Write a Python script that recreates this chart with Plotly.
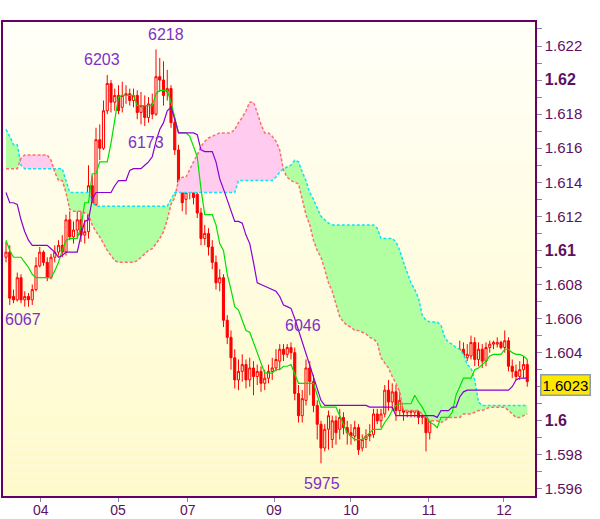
import plotly.graph_objects as go

# ---------------- data ----------------
bar_index = list(range(140))

open_ = [1.6096, 1.6099, 1.6073, 1.6071, 1.6084, 1.6071, 1.6073, 1.6071, 1.6077, 1.6091,
         1.6099, 1.6093, 1.6084, 1.6096, 1.6099, 1.6103, 1.6099, 1.6118, 1.6108, 1.6112,
         1.6118, 1.6109, 1.6111, 1.6138, 1.6127, 1.6165, 1.6160, 1.6182, 1.6198, 1.6187,
         1.6191, 1.6184, 1.6191, 1.6192, 1.6188, 1.6191, 1.6181, 1.6185, 1.6178, 1.6186,
         1.6180, 1.6202, 1.6200, 1.6193, 1.6195, 1.6175, 1.6159, 1.6140, 1.6130, 1.6134,
         1.6136, 1.6133, 1.6122, 1.6107, 1.6110, 1.6102, 1.6093, 1.6081, 1.6084, 1.6059,
         1.6049, 1.6037, 1.6024, 1.6029, 1.6033, 1.6024, 1.6031, 1.6026, 1.6029, 1.6022,
         1.6025, 1.6029, 1.6031, 1.6035, 1.6042, 1.6039, 1.6043, 1.6040, 1.6016, 1.6003,
         1.6012, 1.6031, 1.6023, 1.6009, 1.5998, 1.5984, 1.5995, 1.5989, 1.6000, 1.5995,
         1.6002, 1.5996, 1.5993, 1.5991, 1.5996, 1.5984, 1.5989, 1.5991, 1.5992, 1.6004,
         1.6000, 1.6004, 1.6018, 1.6011, 1.6017, 1.6006, 1.6012, 1.6005, 1.6011, 1.6005,
         1.6007, 1.6002, 1.6005, 1.5993, 1.6003, 1.6011, 1.6018, 1.6013, 1.6016, 1.6019,
         1.6017, 1.6029, 1.6042, 1.6037, 1.6038, 1.6046, 1.6036, 1.6042, 1.6035, 1.6043,
         1.6045, 1.6045, 1.6046, 1.6043, 1.6047, 1.6032, 1.6029, 1.6026, 1.6030, 1.6033]

high = [1.6105, 1.6103, 1.6077, 1.6087, 1.6086, 1.6076, 1.6075, 1.6080, 1.6096, 1.6102,
        1.6100, 1.6096, 1.6098, 1.6103, 1.6106, 1.6109, 1.6121, 1.6123, 1.6117, 1.6130,
        1.6124, 1.6118, 1.6150, 1.6144, 1.6172, 1.6174, 1.6188, 1.6203, 1.6200, 1.6195,
        1.6197, 1.6199, 1.6197, 1.6195, 1.6195, 1.6194, 1.6193, 1.6191, 1.6190, 1.6192,
        1.6218, 1.6213, 1.6211, 1.6206, 1.6197, 1.6178, 1.6162, 1.6143, 1.6138, 1.6140,
        1.6138, 1.6137, 1.6125, 1.6115, 1.6113, 1.6106, 1.6097, 1.6089, 1.6086, 1.6062,
        1.6053, 1.6042, 1.6036, 1.6039, 1.6036, 1.6037, 1.6035, 1.6033, 1.6032, 1.6030,
        1.6033, 1.6037, 1.6042, 1.6045, 1.6045, 1.6045, 1.6046, 1.6043, 1.6021, 1.6018,
        1.6036, 1.6035, 1.6027, 1.6012, 1.6000, 1.5998, 1.6006, 1.6003, 1.6003, 1.6007,
        1.6005, 1.6000, 1.5998, 1.6000, 1.5998, 1.5992, 1.5995, 1.5998, 1.6007, 1.6007,
        1.6007, 1.6021, 1.6024, 1.6022, 1.6021, 1.6023, 1.6015, 1.6013, 1.6013, 1.6012,
        1.6010, 1.6009, 1.6009, 1.6006, 1.6017, 1.6024, 1.6022, 1.6024, 1.6025, 1.6026,
        1.6033, 1.6047, 1.6046, 1.6045, 1.6050, 1.6049, 1.6046, 1.6045, 1.6046, 1.6047,
        1.6047, 1.6049, 1.6047, 1.6053, 1.6049, 1.6036, 1.6033, 1.6035, 1.6038, 1.6036]

low = [1.6093, 1.6068, 1.6069, 1.6070, 1.6069, 1.6067, 1.6067, 1.6068, 1.6076, 1.6090,
       1.6091, 1.6082, 1.6083, 1.6093, 1.6097, 1.6096, 1.6097, 1.6106, 1.6104, 1.6107,
       1.6105, 1.6104, 1.6107, 1.6123, 1.6124, 1.6153, 1.6159, 1.6180, 1.6181, 1.6182,
       1.6180, 1.6181, 1.6186, 1.6185, 1.6184, 1.6177, 1.6174, 1.6173, 1.6175, 1.6177,
       1.6179, 1.6193, 1.6185, 1.6188, 1.6172, 1.6156, 1.6137, 1.6123, 1.6121, 1.6130,
       1.6127, 1.6119, 1.6103, 1.6103, 1.6097, 1.6089, 1.6077, 1.6076, 1.6055, 1.6045,
       1.6030, 1.6019, 1.6018, 1.6023, 1.6019, 1.6020, 1.6015, 1.6021, 1.6017, 1.6018,
       1.6022, 1.6024, 1.6029, 1.6030, 1.6035, 1.6037, 1.6036, 1.6012, 1.5999, 1.5999,
       1.6009, 1.6015, 1.6005, 1.5989, 1.5975, 1.5982, 1.5983, 1.5984, 1.5986, 1.5989,
       1.5992, 1.5986, 1.5986, 1.5988, 1.5980, 1.5982, 1.5984, 1.5988, 1.5990, 1.5998,
       1.5996, 1.6002, 1.6006, 1.6006, 1.6000, 1.6003, 1.6000, 1.6002, 1.6002, 1.6002,
       1.5998, 1.5998, 1.5982, 1.5989, 1.6000, 1.6007, 1.6009, 1.6006, 1.6010, 1.6012,
       1.6014, 1.6021, 1.6033, 1.6035, 1.6036, 1.6032, 1.6032, 1.6031, 1.6032, 1.6040,
       1.6042, 1.6043, 1.6042, 1.6040, 1.6029, 1.6025, 1.6024, 1.6024, 1.6025, 1.6020]

close = [1.6099, 1.6072, 1.6071, 1.6084, 1.6071, 1.6073, 1.6071, 1.6077, 1.6091, 1.6099,
         1.6093, 1.6084, 1.6096, 1.6099, 1.6103, 1.6099, 1.6118, 1.6108, 1.6112, 1.6118,
         1.6109, 1.6111, 1.6138, 1.6127, 1.6165, 1.6160, 1.6182, 1.6198, 1.6187, 1.6191,
         1.6182, 1.6191, 1.6192, 1.6188, 1.6191, 1.6181, 1.6185, 1.6178, 1.6186, 1.6180,
         1.6202, 1.6200, 1.6191, 1.6195, 1.6175, 1.6159, 1.6140, 1.6128, 1.6134, 1.6136,
         1.6131, 1.6122, 1.6107, 1.6110, 1.6102, 1.6093, 1.6081, 1.6084, 1.6059, 1.6049,
         1.6037, 1.6024, 1.6029, 1.6033, 1.6024, 1.6031, 1.6026, 1.6029, 1.6022, 1.6025,
         1.6029, 1.6031, 1.6036, 1.6042, 1.6039, 1.6043, 1.6040, 1.6016, 1.6003, 1.6013,
         1.6031, 1.6023, 1.6009, 1.5998, 1.5984, 1.5995, 1.6003, 1.6000, 1.5993, 1.6002,
         1.5996, 1.5993, 1.5991, 1.5996, 1.5983, 1.5989, 1.5991, 1.5992, 1.6004, 1.6000,
         1.6004, 1.6018, 1.6011, 1.6017, 1.6006, 1.6012, 1.6005, 1.6011, 1.6005, 1.6007,
         1.6002, 1.6003, 1.5993, 1.6003, 1.6012, 1.6018, 1.6013, 1.6016, 1.6019, 1.6016,
         1.6029, 1.6042, 1.6037, 1.6039, 1.6046, 1.6036, 1.6042, 1.6035, 1.6043, 1.6045,
         1.6046, 1.6046, 1.6043, 1.6047, 1.6032, 1.6029, 1.6026, 1.6030, 1.6033, 1.6023]

tenkan = [1.6106, 1.6100, 1.6096, 1.6096, 1.6096, 1.6093, 1.6090, 1.6086, 1.6084, 1.6084,
          1.6084, 1.6084, 1.6084, 1.6088, 1.6093, 1.6100, 1.6106, 1.6107, 1.6107, 1.6107,
          1.6114, 1.6128, 1.6128, 1.6145, 1.6145, 1.6152, 1.6152, 1.6152, 1.6163, 1.6178,
          1.6190, 1.6191, 1.6191, 1.6191, 1.6191, 1.6185, 1.6185, 1.6185, 1.6185, 1.6185,
          1.6192, 1.6194, 1.6194, 1.6194, 1.6187, 1.6177, 1.6169, 1.6169, 1.6169, 1.6167,
          1.6161, 1.6155, 1.6136, 1.6121, 1.6121, 1.6121, 1.6115, 1.6104, 1.6100, 1.6086,
          1.6077, 1.6067, 1.6065, 1.6059, 1.6053, 1.6052, 1.6046, 1.6039, 1.6034, 1.6028,
          1.6028, 1.6028, 1.6030, 1.6030, 1.6032, 1.6032, 1.6033, 1.6027, 1.6022, 1.6022,
          1.6022, 1.6022, 1.6022, 1.6015, 1.6008, 1.6008, 1.6008, 1.6008, 1.6008, 1.6003,
          1.5998, 1.5993, 1.5991, 1.5989, 1.5989, 1.5989, 1.5991, 1.5993, 1.5995, 1.5995,
          1.5995, 1.5999, 1.6002, 1.6006, 1.6009, 1.6010, 1.6010, 1.6010, 1.6010, 1.6015,
          1.6011, 1.6008, 1.6003, 1.5999, 1.5998, 1.5996, 1.6002, 1.6002, 1.6002, 1.6005,
          1.6015, 1.6020, 1.6025, 1.6025, 1.6025, 1.6030, 1.6031, 1.6033, 1.6035, 1.6038,
          1.6039, 1.6039, 1.6039, 1.6042, 1.6042, 1.6040, 1.6039, 1.6039, 1.6038, 1.6036]

kijun = [1.6134, 1.6128, 1.6128, 1.6127, 1.6118, 1.6111, 1.6106, 1.6103, 1.6103, 1.6103,
         1.6103, 1.6103, 1.6101, 1.6099, 1.6096, 1.6097, 1.6099, 1.6099, 1.6099, 1.6099,
         1.6109, 1.6117, 1.6118, 1.6130, 1.6134, 1.6134, 1.6134, 1.6134, 1.6134, 1.6138,
         1.6141, 1.6141, 1.6141, 1.6147, 1.6148, 1.6148, 1.6148, 1.6150, 1.6152, 1.6155,
         1.6164, 1.6171, 1.6175, 1.6182, 1.6184, 1.6177, 1.6169, 1.6169, 1.6169, 1.6169,
         1.6169, 1.6168, 1.6159, 1.6158, 1.6158, 1.6158, 1.6152, 1.6142, 1.6136, 1.6130,
         1.6124, 1.6117, 1.6117, 1.6116, 1.6109, 1.6104, 1.6093, 1.6081, 1.6080, 1.6079,
         1.6078, 1.6077, 1.6076, 1.6073, 1.6068, 1.6067, 1.6066, 1.6060, 1.6053, 1.6047,
         1.6039, 1.6033, 1.6025, 1.6018, 1.6012, 1.6009, 1.6009, 1.6009, 1.6009, 1.6009,
         1.6009, 1.6009, 1.6009, 1.6009, 1.6009, 1.6009, 1.6009, 1.6008, 1.6008, 1.6008,
         1.6008, 1.6008, 1.6008, 1.6008, 1.6003, 1.6003, 1.6003, 1.6003, 1.6003, 1.6003,
         1.6003, 1.6003, 1.6003, 1.6003, 1.6003, 1.6002, 1.6006, 1.6006, 1.6006, 1.6008,
         1.6008, 1.6014, 1.6017, 1.6018, 1.6018, 1.6018, 1.6018, 1.6018, 1.6018, 1.6018,
         1.6018, 1.6018, 1.6018, 1.6018, 1.6018, 1.6020, 1.6024, 1.6025, 1.6025, 1.6025]

senkou_a = [1.6171, 1.6167, 1.6162, 1.6162, 1.6150, 1.6148, 1.6148, 1.6148, 1.6148, 1.6148,
            1.6148, 1.6148, 1.6148, 1.6148, 1.6148, 1.6148, 1.6141, 1.6134, 1.6134, 1.6134,
            1.6134, 1.6134, 1.6134, 1.6128, 1.6126, 1.6126, 1.6126, 1.6126, 1.6126, 1.6126,
            1.6126, 1.6126, 1.6126, 1.6126, 1.6126, 1.6126, 1.6126, 1.6126, 1.6126, 1.6126,
            1.6126, 1.6126, 1.6126, 1.6126, 1.6130, 1.6134, 1.6134, 1.6134, 1.6134, 1.6134,
            1.6134, 1.6134, 1.6134, 1.6134, 1.6134, 1.6134, 1.6134, 1.6134, 1.6134, 1.6134,
            1.6134, 1.6134, 1.6141, 1.6141, 1.6141, 1.6141, 1.6141, 1.6141, 1.6141, 1.6141,
            1.6141, 1.6141, 1.6143, 1.6146, 1.6148, 1.6149, 1.6150, 1.6153, 1.6152, 1.6146,
            1.6141, 1.6134, 1.6130, 1.6125, 1.6120, 1.6118, 1.6116, 1.6115, 1.6115, 1.6115,
            1.6115, 1.6115, 1.6115, 1.6115, 1.6115, 1.6115, 1.6115, 1.6115, 1.6115, 1.6113,
            1.6107, 1.6107, 1.6107, 1.6107, 1.6105, 1.6100, 1.6093, 1.6087, 1.6081, 1.6077,
            1.6072, 1.6062, 1.6059, 1.6058, 1.6058, 1.6058, 1.6056, 1.6049, 1.6046, 1.6045,
            1.6043, 1.6042, 1.6039, 1.6033, 1.6031, 1.6024, 1.6011, 1.6009, 1.6009, 1.6009,
            1.6009, 1.6009, 1.6009, 1.6009, 1.6009, 1.6009, 1.6009, 1.6009, 1.6009, 1.6009]

senkou_b = [1.6148, 1.6148, 1.6148, 1.6148, 1.6154, 1.6156, 1.6156, 1.6156, 1.6156, 1.6156,
            1.6156, 1.6156, 1.6153, 1.6146, 1.6141, 1.6141, 1.6134, 1.6124, 1.6123, 1.6123,
            1.6123, 1.6122, 1.6121, 1.6115, 1.6111, 1.6108, 1.6104, 1.6100, 1.6097, 1.6094,
            1.6093, 1.6093, 1.6093, 1.6093, 1.6093, 1.6094, 1.6096, 1.6098, 1.6100, 1.6101,
            1.6104, 1.6107, 1.6111, 1.6118, 1.6127, 1.6131, 1.6141, 1.6143, 1.6143, 1.6148,
            1.6152, 1.6156, 1.6161, 1.6164, 1.6166, 1.6167, 1.6168, 1.6169, 1.6169, 1.6169,
            1.6169, 1.6171, 1.6175, 1.6178, 1.6182, 1.6187, 1.6187, 1.6181, 1.6174, 1.6169,
            1.6169, 1.6167, 1.6164, 1.6159, 1.6147, 1.6143, 1.6141, 1.6140, 1.6139, 1.6130,
            1.6121, 1.6115, 1.6106, 1.6100, 1.6096, 1.6089, 1.6081, 1.6076, 1.6068, 1.6061,
            1.6058, 1.6056, 1.6055, 1.6053, 1.6053, 1.6052, 1.6051, 1.6049, 1.6048, 1.6046,
            1.6037, 1.6034, 1.6031, 1.6026, 1.6022, 1.6017, 1.6006, 1.6006, 1.6006, 1.6006,
            1.6006, 1.6004, 1.6002, 1.6000, 1.6000, 1.6000, 1.5999, 1.6000, 1.6002, 1.6002,
            1.6002, 1.6002, 1.6004, 1.6004, 1.6004, 1.6005, 1.6006, 1.6006, 1.6007, 1.6008,
            1.6008, 1.6008, 1.6008, 1.6008, 1.6006, 1.6004, 1.6002, 1.6002, 1.6003, 1.6004]

x_tick_pos = [9.3, 29.9, 48.5, 71.5, 92.0, 112.8, 132.8]
x_tick_labels = ["04", "05", "07", "09", "10", "11", "12"]

y_tick_vals = [1.596, 1.598, 1.600, 1.602, 1.604, 1.606, 1.608, 1.610,
               1.612, 1.614, 1.616, 1.618, 1.620, 1.622]
# the 1.602 label sits under the last-price box in the reference
y_tick_labels = ["1.596", "1.598", "<span style='font-size:16px'><b>1.6</b></span>", "",
                 "1.604", "1.606", "1.608",
                 "<span style='font-size:16px'><b>1.61</b></span>", "1.612", "1.614",
                 "1.616", "1.618", "<span style='font-size:16px'><b>1.62</b></span>", "1.622"]

extreme_labels = ["6218", "6203", "6173", "6067", "6046", "5975"]
extreme_label_x = [42.7, 25.6, 37.4, 4.6, 79.2, 84.3]
extreme_label_y = [1.62268, 1.62122, 1.61636, 1.60592, 1.60562, 1.59629]

# ---------------- figure ----------------
fig = go.Figure()

# plot-area vertical gradient background
n_bands = 60
top_rgb = (255, 255, 248)
bot_rgb = (255, 250, 202)
for k in range(n_bands):
    t = (k + 0.5) / n_bands
    r, g, b = [round(top_rgb[j] + (bot_rgb[j] - top_rgb[j]) * t) for j in range(3)]
    fig.add_shape(type="rect", xref="x domain", yref="y domain",
                  x0=0, x1=1, y0=1 - (k + 1) / n_bands, y1=1 - k / n_bands,
                  fillcolor=f"rgb({r},{g},{b})", line_width=0, layer="below")

cloud_top = [max(a, b) for a, b in zip(senkou_a, senkou_b)]

# green cloud (span A above span B)
fig.add_trace(go.Scatter(x=bar_index, y=senkou_b, mode="lines", line=dict(width=0),
                         hoverinfo="skip", showlegend=False))
fig.add_trace(go.Scatter(x=bar_index, y=cloud_top, mode="lines", line=dict(width=0),
                         fill="tonexty", fillcolor="#B2FFA2", hoverinfo="skip", showlegend=False))
# pink cloud (span B above span A)
fig.add_trace(go.Scatter(x=bar_index, y=senkou_a, mode="lines", line=dict(width=0),
                         hoverinfo="skip", showlegend=False))
fig.add_trace(go.Scatter(x=bar_index, y=cloud_top, mode="lines", line=dict(width=0),
                         fill="tonexty", fillcolor="#FFCCF0", hoverinfo="skip", showlegend=False))

# cloud borders
fig.add_trace(go.Scatter(x=bar_index, y=senkou_a, mode="lines",
                         line=dict(color="#10E4F0", width=1.5, dash="3px,2px"),
                         hoverinfo="skip", showlegend=False))
fig.add_trace(go.Scatter(x=bar_index, y=senkou_b, mode="lines",
                         line=dict(color="#FF6E6E", width=1.5, dash="3px,2px"),
                         hoverinfo="skip", showlegend=False))

# candles
fig.add_trace(go.Candlestick(
    x=bar_index, open=open_, high=high, low=low, close=close,
    increasing=dict(line=dict(color="#FF0000", width=1), fillcolor="rgba(0,0,0,0)"),
    decreasing=dict(line=dict(color="#FF0000", width=1), fillcolor="#FF0000"),
    whiskerwidth=0, hoverinfo="skip", showlegend=False))

# tenkan / kijun
fig.add_trace(go.Scatter(x=bar_index, y=tenkan, mode="lines",
                         line=dict(color="#00E000", width=1.2),
                         hoverinfo="skip", showlegend=False))
fig.add_trace(go.Scatter(x=bar_index, y=kijun, mode="lines",
                         line=dict(color="#8A00D6", width=1.2),
                         hoverinfo="skip", showlegend=False))

# extreme value labels
for txt, xv, yv in zip(extreme_labels, extreme_label_x, extreme_label_y):
    fig.add_annotation(x=xv, y=yv, xref="x", yref="y", text=txt, showarrow=False,
                       xanchor="center", yanchor="middle",
                       font=dict(family="Arial, Liberation Sans, sans-serif", size=16,
                                 color="#8030C8"))

# last price box
fig.add_annotation(xref="paper", x=1, xshift=5, yref="y", y=close[-1] - 0.0002,
                   text=f"{close[-1]:.4f}", showarrow=False, xanchor="left",
                   yanchor="middle", bgcolor="#FFE800", bordercolor="#8C9CAC",
                   borderwidth=1.5, borderpad=1,
                   font=dict(family="Arial, Liberation Sans, sans-serif", size=15,
                             color="#000000"))

axis_col = "#660066"
fig.update_layout(
    width=600, height=519,
    margin=dict(l=3, r=65, t=22, b=23, autoexpand=False),
    paper_bgcolor="white", plot_bgcolor="rgba(0,0,0,0)",
    showlegend=False, boxgap=0.2, hovermode=False,
    font=dict(family="Arial, Liberation Sans, sans-serif", color="#5E1060", size=14),
)
fig.update_xaxes(
    range=[-0.8, 141.07], tickmode="array", tickvals=x_tick_pos, ticktext=x_tick_labels,
    ticks="outside", ticklen=4, tickcolor="#8C84A8", tickfont=dict(size=14, color="#5E1060"),
    ticklabelstandoff=-4,
    showgrid=False, zeroline=False, showline=True, linecolor=axis_col, linewidth=1.5,
    mirror=True, rangeslider_visible=False, automargin=False,
)
fig.update_yaxes(
    side="right", range=[1.595585, 1.623409], tickmode="array",
    tickvals=y_tick_vals, ticktext=y_tick_labels,
    ticks="outside", ticklen=5, tickcolor="#8C84A8", tickfont=dict(size=15, color="#5E1060"),
    minor=dict(tickmode="array", tickvals=[round(1.595 + 0.002 * k, 3) for k in range(15)],
               ticks="outside", ticklen=5, tickcolor="#8C84A8"),
    showgrid=False, zeroline=False, showline=True, linecolor=axis_col, linewidth=1.5,
    mirror=True, automargin=False,
)

fig.write_html(
    "out.html",
    config={"displayModeBar": False},
    post_script="document.body.style.margin='0px';document.body.style.overflow='hidden';",
)
